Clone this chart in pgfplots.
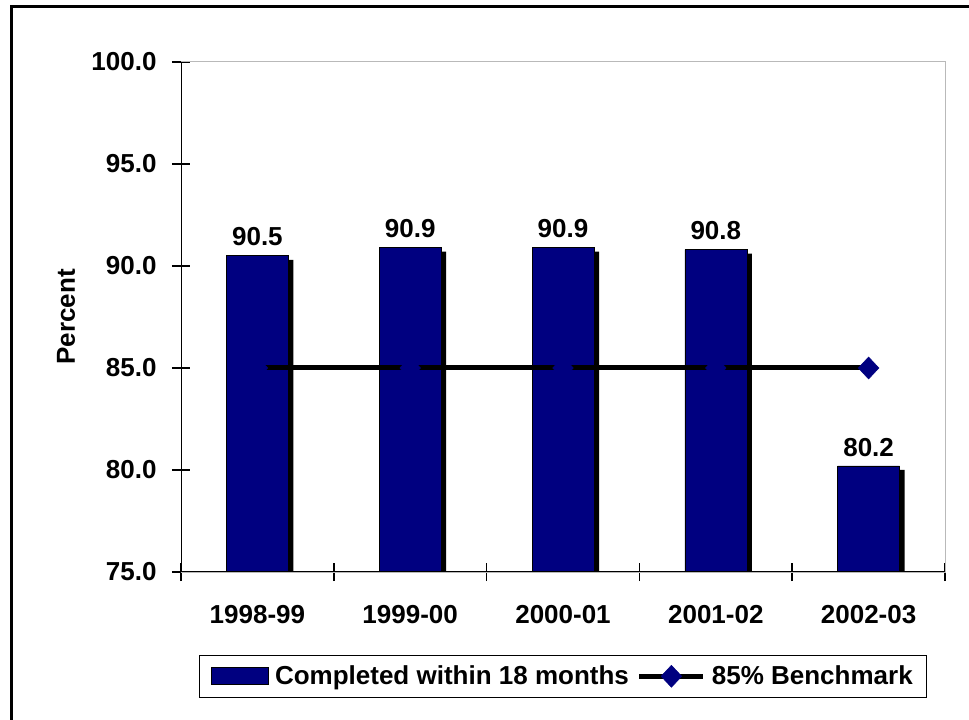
\documentclass[border=0pt]{standalone}
\usepackage{fontspec}
\setmainfont{Liberation Sans}
\usepackage{pgfplots}
\pgfplotsset{compat=1.18}
\definecolor{navy}{RGB}{0,0,128}
\newcommand{\bigf}{\fontsize{26bp}{30bp}\selectfont\bfseries}
\pgfplotsset{
  benchlegend/.style={legend image code/.code={\draw[mark repeat=2,mark phase=2,##1] plot coordinates {(0bp,0bp)(32bp,0bp)(64bp,0bp)};}},
  barlegend/.style={legend image code/.code={\draw[fill=navy,draw=black,line width=0.8bp] (0bp,-8.5bp) rectangle (57bp,8.5bp);}}
}
\begin{document}
\begin{tikzpicture}
\useasboundingbox (0,0) rectangle (969bp,720bp);
\fill[white] (0,0) rectangle (969bp,720bp);
\draw[black, line width=3bp] (11.5bp,0) -- (11.5bp,713.5bp) -- (969bp,713.5bp);
\begin{axis}[
  at={(181bp,148bp)}, anchor=south west,
  scale only axis, width=764bp, height=510bp,
  xmin=0.5, xmax=5.5, ymin=75, ymax=100,
  xtick={0.5,1.5,2.5,3.5,4.5,5.5},
  xticklabels={1998-99,1999-00,2000-01,2001-02,2002-03,{}},
  xticklabel style={xshift=76.4bp, yshift=-21bp},
  ytick={75,80,85,90,95,100},
  yticklabels={75.0,80.0,85.0,90.0,95.0,100.0},
  yticklabel style={xshift=-12bp},
  tick pos=left,
  tick align=center,
  major tick length=18bp,
  tick style={black, line width=1.5bp},
  axis line style={draw=gray!55, line width=1bp},
  ticklabel style={font=\bigf},
  ylabel={Percent},
  ylabel style={font=\bigf, at={(axis description cs:-0.1505,0.5)}, anchor=center},
  /pgf/number format/.cd, fixed, fixed zerofill, precision=1, assume math mode=true,
  /pgfplots/.cd,
  legend style={at={(0.5,-0.162)}, anchor=north, legend columns=2, draw=black, line width=1bp, font=\bigf, inner xsep=12bp, inner ysep=9bp,
    /tikz/every odd column/.append style={column sep=4bp},
    /tikz/every even column/.append style={column sep=6bp}},
]
\addplot[ybar, bar width=62bp, bar shift=5bp, fill=black, draw=none, yshift=-4bp, forget plot]
  coordinates {(1,90.5)(2,90.9)(3,90.9)(4,90.8)(5,80.2)};
\addplot[ybar, bar width=62bp, bar shift=0pt, fill=navy, draw=black, line width=0.6bp, barlegend,
  nodes near coords, every node near coord/.append style={font=\bigf, text=black, anchor=south, yshift=6bp}]
  coordinates {(1,90.5)(2,90.9)(3,90.9)(4,90.8)(5,80.2)};
\addlegendentry{Completed within 18 months}
\addplot[black, line width=5bp, mark=diamond*, mark size=11bp, benchlegend,
  mark options={fill=navy, draw=navy, line width=0.5bp, xscale=1.25}]
  coordinates {(1,85)(2,85)(3,85)(4,85)(5,85)};
\addlegendentry{85\% Benchmark}
\draw[black, line width=1.5bp] (rel axis cs:0,1) -- (rel axis cs:0,0) -- (rel axis cs:1,0);
\end{axis}
\end{tikzpicture}
\end{document}
